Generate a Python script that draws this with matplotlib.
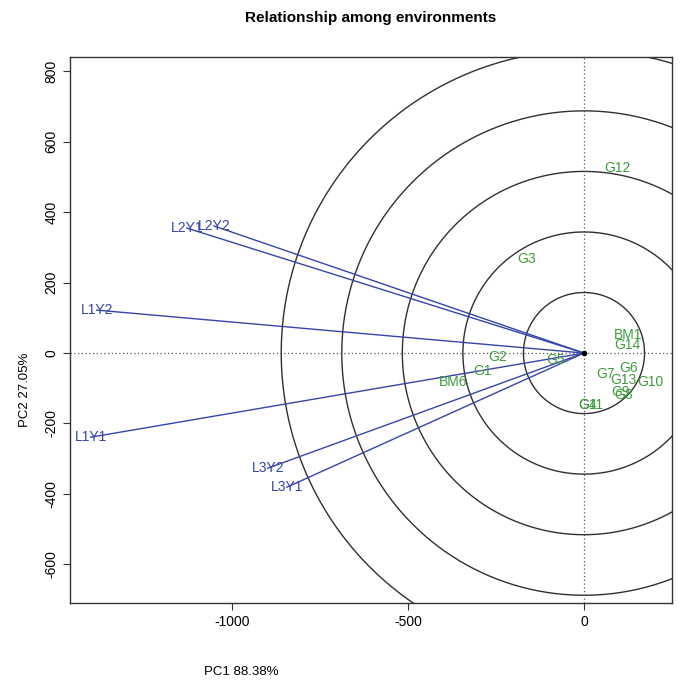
import numpy as np
import matplotlib.pyplot as plt

plt.rcParams['font.family'] = ['Liberation Sans', 'DejaVu Sans']
plt.rcParams['axes.unicode_minus'] = False

# environment vectors (end points)
env_names = ['L1Y1', 'L1Y2', 'L2Y1', 'L2Y2', 'L3Y1', 'L3Y2']
env_x = [-1401, -1384, -1128, -1051, -844, -898]
env_y = [-239, 122, 355, 361, -381, -327]

# genotype scores
gen_names = ['BM1', 'G14', 'G6', 'G7', 'G13', 'G10', 'G9', 'G8', 'G4', 'G11',
             'G5', 'G2', 'G1', 'BM6', 'G3', 'G12']
gen_x = [125, 122, 128, 60, 111, 188, 105, 112, 10, 18,
         -82, -244, -287, -372, -162, 94]
gen_y = [51, 23, -43, -60, -77, -82, -110, -118, -148, -148,
         -20, -11, -51, -82, 267, 526]

circle_r = [172, 344, 516, 688, 860]

blue = '#3545a8'
green = '#3c9c3c'

fig = plt.figure(figsize=(6.85, 6.99), dpi=100)
ax = fig.add_axes([70/685, 1-603/699, 602/685, 546/699])

# concentric circles
theta = np.linspace(0, 2*np.pi, 721)
for r in circle_r:
    ax.plot(r*np.cos(theta), r*np.sin(theta), color='#303030', lw=1.0)

ax.axhline(0, color='#555555', ls=(0, (1, 2)), lw=0.9)
ax.axvline(0, color='#555555', ls=(0, (1, 2)), lw=0.9)

# environment vectors, label centred on the end point
for name, x, y in zip(env_names, env_x, env_y):
    ax.plot([0, x], [0, y], color=blue, lw=1.0, zorder=2)
    ax.text(x, y, name, color=blue, fontsize=10, ha='center', va='center', zorder=3)

for name, x, y in zip(gen_names, gen_x, gen_y):
    ax.text(x, y, name, color=green, fontsize=10, ha='center', va='center')

ax.plot([0], [0], 'o', color='black', ms=3)

ax.set_xlim(-1460, 250)
ax.set_ylim(-710, 841)
ax.set_xticks([-1000, -500, 0])
ax.set_yticks([-600, -400, -200, 0, 200, 400, 600, 800])
ax.tick_params(axis='both', labelsize=10, direction='out', length=5, color='#333333')
for lbl in ax.get_yticklabels():
    lbl.set_rotation(90)
    lbl.set_va('center')
for s in ax.spines.values():
    s.set_color('#333333')
    s.set_linewidth(1.0)

fig.text(371/685, 1-18/699, 'Relationship among environments', ha='center', va='center',
         fontsize=11, fontweight='bold')
fig.text(241/685, 1-672/699, 'PC1 88.38%', ha='center', va='center', fontsize=9.5)
fig.text(25/685, 1-390/699, 'PC2 27.05%', ha='center', va='center', fontsize=9.5, rotation=90)

plt.savefig('out.png', dpi=100)
